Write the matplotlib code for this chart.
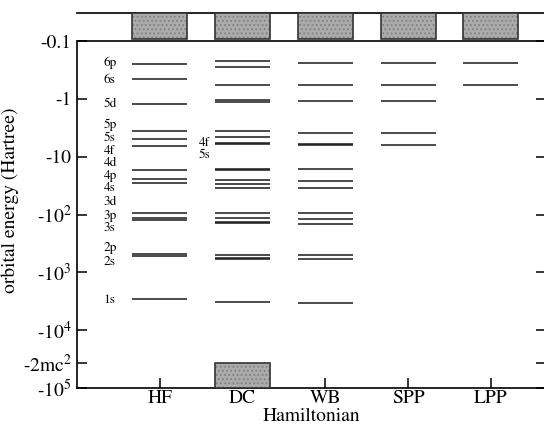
import matplotlib
matplotlib.use('Agg')
import matplotlib.pyplot as plt
from matplotlib.ticker import NullLocator

plt.rcParams['font.family'] = 'STIXGeneral'
plt.rcParams['mathtext.fontset'] = 'stix'
plt.rcParams['hatch.linewidth'] = 0.8

# orbital energies given as |E| in Hartree (all levels are bound, E < 0)
methods = ['HF', 'DC', 'WB', 'SPP', 'LPP']
hf_levels = [0.245, 0.46, 1.21, 3.6, 5.0, 6.6, 16.7, 24.8, 28.5,
             96, 114, 124, 485, 512, 2920]
dc_levels = [0.222, 0.279, 0.571, 1.05, 1.15, 3.57, 4.5, 5.87, 6.11,
             16.3, 16.9, 25.5, 29.3, 34.4, 94, 114, 136, 141,
             492, 561, 583, 3290]
wb_levels = [0.237, 0.571, 1.09, 3.86, 5.94, 6.18, 16.6, 26.2, 34.6,
             94.8, 120, 144, 506, 593, 3330]
spp_levels = [0.237, 0.571, 1.09, 3.86, 6.2]
lpp_levels = [0.237, 0.571]
all_levels = [hf_levels, dc_levels, wb_levels, spp_levels, lpp_levels]

# shell labels next to the HF column
shell_names = ['6p', '6s', '5d', '5p', '5s', '4f', '4d', '4p', '4s',
               '3d', '3p', '3s', '2p', '2s', '1s']
shell_label_pos = [0.24, 0.473, 1.23, 2.84, 4.83, 7.92, 13.1, 21.7, 34.6,
                   60.4, 107, 170, 378, 660, 3040]
dc_names = ['4f', '5s']
dc_label_pos = [5.9, 9.4]

c_light = 137.036
two_mc2 = 2 * c_light ** 2

ytick_vals = [0.1, 1, 10, 100, 1e3, 1e4, two_mc2, 1e5]
ytick_labels = ['-0.1', '-1', '-10', '-10$^2$', '-10$^3$', '-10$^4$',
                '-2mc$^2$', '-10$^5$']

# layout
y_top = 10 ** (-1 - 28 / 57.78)
cont_bottom = 10 ** (-1 - 2 / 57.78)
half_w = 0.332
xs = list(range(1, len(methods) + 1))

fig = plt.figure(figsize=(5.44, 4.24), dpi=100)
ax = fig.add_axes([77 / 544, 36 / 424, 469 / 544, 375 / 424])
ax.set_yscale('log')
ax.set_ylim(1e5, y_top)
ax.set_xlim(0, 5.665)

# energy levels
for x, levels in zip(xs, all_levels):
    ax.hlines(levels, x - half_w, x + half_w, color='#1a1a1a', lw=1.1)

# positive-energy continuum for every Hamiltonian
for x in xs:
    ax.bar(x, y_top - cont_bottom, bottom=cont_bottom, width=2 * half_w,
           facecolor='#ababab', edgecolor='#808080', hatch='....', lw=0, zorder=3)
    ax.bar(x, y_top - cont_bottom, bottom=cont_bottom, width=2 * half_w,
           fill=False, edgecolor='#333333', lw=1.2, zorder=3)

# negative-energy continuum (Dirac-Coulomb only)
ax.bar(2, 1e5 - two_mc2, bottom=two_mc2, width=2 * half_w,
       facecolor='#ababab', edgecolor='#808080', hatch='....', lw=0, zorder=3)
ax.bar(2, 1e5 - two_mc2, bottom=two_mc2, width=2 * half_w,
       fill=False, edgecolor='#333333', lw=1.2, zorder=3)

ax.axhline(0.1, color='black', lw=1.2)

for name, pos in zip(shell_names, shell_label_pos):
    ax.text(0.323, pos, name, fontsize=9.5, va='center', ha='left')
for name, pos in zip(dc_names, dc_label_pos):
    ax.text(1.468, pos, name, fontsize=9.5, va='center', ha='left')

# axes and ticks
for side in ['left', 'right', 'top', 'bottom']:
    ax.spines[side].set_linewidth(1.2)
ax.spines['left'].set_bounds(1e5, 0.1)

ax.set_yticks(ytick_vals)
ax.set_yticklabels(ytick_labels)
ax.yaxis.set_minor_locator(NullLocator())
ax.set_xticks(xs)
ax.set_xticklabels(methods)
ax.tick_params(direction='in', length=7, width=1.1, labelsize=14, pad=4)
ax.tick_params(axis='x', pad=1.5)
ax.tick_params(axis='y', right=True)

ax.set_xlabel('Hamiltonian', fontsize=14)
ax.set_ylabel('orbital energy (Hartree)', fontsize=14)
ax.xaxis.set_label_coords(0.5, -0.052)
ax.yaxis.set_label_coords(-0.124, 0.5)

fig.savefig('out.png', dpi=100)
